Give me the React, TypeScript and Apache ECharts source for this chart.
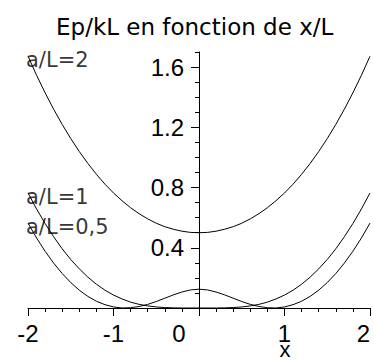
import React, { useEffect, useRef } from 'react';
import * as echarts from 'echarts';

// Sample positions x/L
const xValues = [
  -2, -1.9, -1.8, -1.7, -1.6, -1.5, -1.4, -1.3, -1.2, -1.1,
  -1, -0.9, -0.8, -0.7, -0.6, -0.5, -0.4, -0.3, -0.2, -0.1,
  0, 0.1, 0.2, 0.3, 0.4, 0.5, 0.6, 0.7, 0.8, 0.9,
  1, 1.1, 1.2, 1.3, 1.4, 1.5, 1.6, 1.7, 1.8, 1.9, 2,
];

// Ep/kL for a/L = 2
const epA2 = [
  1.672, 1.546, 1.429, 1.320, 1.219, 1.125, 1.039, 0.960, 0.888, 0.822,
  0.764, 0.712, 0.666, 0.626, 0.592, 0.563, 0.540, 0.523, 0.510, 0.502,
  0.500, 0.502, 0.510, 0.523, 0.540, 0.563, 0.592, 0.626, 0.666, 0.712,
  0.764, 0.822, 0.888, 0.960, 1.039, 1.125, 1.219, 1.320, 1.429, 1.546, 1.672,
];

// Ep/kL for a/L = 1
const epA1 = [
  0.764, 0.658, 0.561, 0.473, 0.393, 0.322, 0.260, 0.205, 0.158, 0.118,
  0.086, 0.060, 0.039, 0.024, 0.014, 0.007, 0.003, 0.001, 0.000, 0.000,
  0.000, 0.000, 0.000, 0.001, 0.003, 0.007, 0.014, 0.024, 0.039, 0.060,
  0.086, 0.118, 0.158, 0.205, 0.260, 0.322, 0.393, 0.473, 0.561, 0.658, 0.764,
];

// Ep/kL for a/L = 0,5
const epA05 = [
  0.564, 0.465, 0.377, 0.298, 0.229, 0.169, 0.118, 0.077, 0.045, 0.022,
  0.007, 0.000, 0.002, 0.010, 0.024, 0.043, 0.065, 0.087, 0.106, 0.120,
  0.125, 0.120, 0.106, 0.087, 0.065, 0.043, 0.024, 0.010, 0.002, 0.000,
  0.007, 0.022, 0.045, 0.077, 0.118, 0.169, 0.229, 0.298, 0.377, 0.465, 0.564,
];

const curveNames = ['a/L=2', 'a/L=1', 'a/L=0,5'];
const yLabelValues = [0.4, 0.8, 1.2, 1.6];
const yMajorTicks = [0, 0.4, 0.8, 1.2, 1.6];

const tickFont = '"Liberation Sans", Arial, sans-serif';
const textFont = '"DejaVu Sans", sans-serif';

// plot area in the container
const GRID_LEFT = 28;
const GRID_RIGHT = 4;
const WIDTH = 374;
// shift that brings a left y axis onto x = 0 (the x range is symmetric)
const Y_AXIS_OFFSET = -(WIDTH - GRID_LEFT - GRID_RIGHT) / 2;

export default function App() {
  const ref = useRef<HTMLDivElement>(null);

  useEffect(() => {
    const chart = echarts.init(ref.current!, null, { renderer: 'svg' });
    const curves = [epA2, epA1, epA05];
    const pairs = (ys: number[]) => xValues.map((x, i) => [x, ys[i]]);

    chart.setOption({
      animation: false,
      backgroundColor: '#ffffff',
      title: {
        text: 'Ep/kL en fonction de x/L',
        left: 56,
        top: 15,
        padding: 0,
        textStyle: { fontFamily: textFont, fontSize: 23, fontWeight: 'normal', color: '#000' },
      },
      grid: { left: GRID_LEFT, right: GRID_RIGHT, top: 52, bottom: 53, containLabel: false, outerBoundsMode: 'none' },
      xAxis: {
        type: 'value',
        min: -2,
        max: 2,
        interval: 1,
        axisLine: { show: true, onZero: true, onZeroAxisIndex: 0, lineStyle: { color: '#000', width: 1 } },
        axisTick: { show: true, inside: false, length: 8, lineStyle: { color: '#000' } },
        minorTick: { show: true, splitNumber: 5, length: 4, lineStyle: { color: '#000' } },
        splitLine: { show: false },
        axisLabel: {
          margin: 13,
          color: '#000',
          fontFamily: tickFont,
          fontSize: 24,
          alignMaxLabel: 'right',
          formatter: (v: number) => (v === 0 ? '{o|0}' : String(v)),
          rich: {
            o: { padding: [0, 40, 0, 0], fontFamily: tickFont, fontSize: 24, color: '#000' },
          },
        },
      },
      yAxis: [
        {
          // fine 0.1 graduation with the value labels
          type: 'value',
          position: 'left',
          offset: Y_AXIS_OFFSET,
          min: 0,
          max: 1.7,
          interval: 0.1,
          axisLine: { show: true, onZero: false, lineStyle: { color: '#000', width: 1 } },
          axisTick: { show: true, inside: false, length: 4, lineStyle: { color: '#000' } },
          splitLine: { show: false },
          axisLabel: {
            customValues: yLabelValues,
            margin: 15,
            color: '#000',
            fontFamily: tickFont,
            fontSize: 24,
          },
        },
        {
          // longer marks at every 0.4
          type: 'value',
          position: 'left',
          offset: Y_AXIS_OFFSET,
          min: 0,
          max: 1.7,
          axisLine: { show: false, onZero: false },
          axisTick: { show: true, inside: false, length: 8, customValues: yMajorTicks, lineStyle: { color: '#000' } },
          axisLabel: { show: false },
          splitLine: { show: false },
        },
      ],
      series: [
        ...curves.map((ys, i) => ({
          name: curveNames[i],
          type: 'line',
          xAxisIndex: 0,
          yAxisIndex: 0,
          data: pairs(ys),
          showSymbol: false,
          symbol: 'none',
          silent: true,
          lineStyle: { color: '#000', width: 1 },
        })),
        {
          type: 'scatter',
          xAxisIndex: 0,
          yAxisIndex: 0,
          symbolSize: 0,
          silent: true,
          data: curveNames.map((n, i) => [xValues[0], curves[i][0], n]),
          label: {
            show: true,
            position: 'right',
            distance: 0,
            offset: [-2, 4],
            color: '#000',
            fontFamily: textFont,
            fontSize: 21,
            formatter: (p: any) => p.value[2],
          },
        },
      ],
      graphic: [
        {
          type: 'text',
          x: 285,
          y: 349,
          style: {
            text: 'x',
            fill: '#000',
            font: '22px "Liberation Sans", Arial, sans-serif',
            textAlign: 'center',
            textVerticalAlign: 'middle',
          },
        },
      ],
    });

    return () => chart.dispose();
  }, []);

  return <div ref={ref} style={{ position: 'fixed', left: 0, top: 0, width: 374, height: 361 }} />;
}
